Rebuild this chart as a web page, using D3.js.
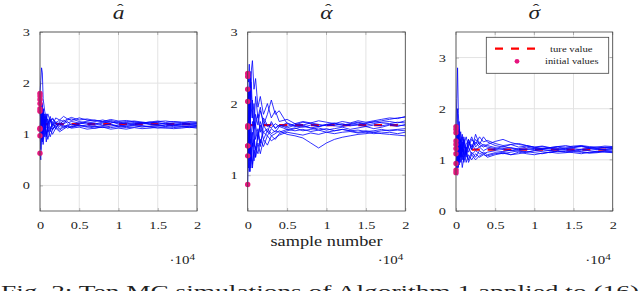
<!DOCTYPE html>
<html><head><meta charset="utf-8">
<script src="https://cdn.jsdelivr.net/npm/d3@7"></script>
<style>
html,body{margin:0;padding:0;background:#fff;overflow:hidden;}
svg{display:block;}
text{font-family:"Liberation Serif","DejaVu Serif",serif;fill:#222;}
</style></head>
<body>
<svg id="c" width="640" height="291"></svg>
<script>
// ---------------- data ----------------
const samples = [0,100,200,300,400,600,800,1000,1300,1600,2000,2500,3000,3500,4000,5000,6000,7000,8000,9000,10000,11000,12000,13000,14000,15000,16000,17000,18000,19000,20000];
const xTickValues = [0,5000,10000,15000,20000];
const xTickLabels = ["0","0.5","1","1.5","2"];

// panel 1: a-hat
const titleA = "a";
const trueA = 1.2;
const initA = [1.80,1.75,1.68,1.60,1.50,1.45,1.12,1.10,0.97,0.63];
const runsA = [
 [1.80,2.05,2.30,2.20,1.70,1.45,1.30,1.40,1.25,1.32,1.22,1.28,1.25,1.30,1.27,1.32,1.28,1.25,1.28,1.24,1.22,1.25,1.23,1.22,1.24,1.22,1.20,1.22,1.21,1.20,1.20],
 [1.75,1.55,1.70,1.35,1.50,1.20,1.35,1.15,1.28,1.10,1.18,1.22,1.15,1.18,1.20,1.16,1.18,1.15,1.17,1.19,1.14,1.16,1.18,1.17,1.15,1.16,1.18,1.15,1.14,1.16,1.15],
 [1.68,1.40,1.10,1.45,1.05,1.30,1.00,1.20,1.35,1.15,1.25,1.18,1.28,1.22,1.25,1.22,1.26,1.28,1.24,1.22,1.25,1.23,1.26,1.24,1.22,1.25,1.26,1.24,1.23,1.25,1.24],
 [1.60,1.25,1.55,1.10,1.40,0.95,1.25,1.30,1.10,1.20,1.14,1.20,1.12,1.16,1.13,1.18,1.15,1.12,1.14,1.10,1.12,1.10,1.13,1.11,1.12,1.14,1.12,1.13,1.15,1.13,1.14],
 [1.50,1.10,1.35,1.60,1.20,1.40,1.15,1.10,1.25,1.30,1.20,1.15,1.22,1.28,1.30,1.25,1.22,1.20,1.24,1.27,1.23,1.20,1.21,1.23,1.20,1.19,1.21,1.20,1.18,1.19,1.20],
 [1.45,1.30,0.90,1.20,1.50,1.10,1.30,1.05,1.15,1.08,1.22,1.10,1.18,1.12,1.15,1.20,1.24,1.22,1.18,1.20,1.16,1.18,1.20,1.22,1.19,1.18,1.16,1.17,1.19,1.18,1.17],
 [1.12,1.45,1.20,0.85,1.25,1.35,0.95,1.15,1.05,1.25,1.10,1.25,1.20,1.25,1.18,1.22,1.20,1.18,1.22,1.25,1.20,1.22,1.19,1.20,1.22,1.23,1.20,1.18,1.20,1.22,1.21],
 [1.10,0.70,1.30,1.05,0.80,1.15,1.05,0.90,1.10,1.00,1.12,1.05,1.10,1.15,1.12,1.14,1.10,1.12,1.15,1.13,1.15,1.13,1.14,1.16,1.14,1.12,1.13,1.11,1.12,1.14,1.12],
 [0.97,1.20,1.00,1.35,0.90,1.25,1.40,1.20,1.30,1.18,1.32,1.28,1.35,1.30,1.33,1.28,1.30,1.27,1.25,1.29,1.26,1.27,1.25,1.22,1.24,1.26,1.23,1.25,1.24,1.22,1.23],
 [0.63,0.50,0.95,1.30,1.00,1.20,0.85,1.10,0.95,1.10,1.15,1.08,1.14,1.18,1.15,1.17,1.14,1.16,1.13,1.16,1.18,1.15,1.17,1.14,1.16,1.17,1.15,1.18,1.16,1.15,1.17]
];

// panel 2: alpha-hat
const titleB = "α";
const trueB = 1.7;
const initB = [2.42,2.38,2.20,2.03,1.69,1.67,1.41,1.41,1.27,0.87];
const runsB = [
 [2.42,2.30,2.55,2.10,2.40,2.60,2.20,2.35,1.95,2.10,1.85,2.00,1.80,1.90,1.75,1.78,1.72,1.75,1.73,1.76,1.74,1.72,1.75,1.73,1.76,1.74,1.76,1.78,1.80,1.79,1.82],
 [2.38,2.00,2.20,1.80,2.45,1.90,1.70,2.10,1.80,1.95,1.70,1.85,2.05,1.85,1.90,1.72,1.68,1.70,1.66,1.68,1.70,1.72,1.70,1.71,1.73,1.70,1.72,1.74,1.75,1.73,1.76],
 [2.20,1.80,1.50,1.90,1.60,1.40,1.75,1.50,1.65,1.45,1.60,1.55,1.65,1.60,1.68,1.64,1.66,1.62,1.64,1.66,1.63,1.65,1.67,1.64,1.66,1.68,1.65,1.67,1.70,1.68,1.71],
 [2.03,2.20,1.70,2.00,1.45,1.75,1.55,1.35,1.55,1.70,1.50,1.62,1.55,1.58,1.62,1.57,1.55,1.52,1.45,1.38,1.45,1.50,1.53,1.55,1.57,1.58,1.60,1.62,1.63,1.64,1.65],
 [1.69,1.30,1.90,1.20,1.50,1.10,1.35,1.25,1.45,1.30,1.50,1.42,1.55,1.50,1.58,1.62,1.65,1.68,1.66,1.63,1.65,1.62,1.64,1.62,1.60,1.62,1.60,1.58,1.57,1.56,1.55],
 [1.67,2.10,1.60,2.35,1.80,2.05,1.65,1.85,1.70,1.90,1.75,1.68,1.72,1.66,1.70,1.68,1.72,1.70,1.73,1.71,1.69,1.70,1.72,1.69,1.70,1.68,1.70,1.69,1.71,1.70,1.69],
 [1.41,1.90,1.25,1.60,1.10,1.45,1.20,1.40,1.30,1.50,1.40,1.55,1.48,1.52,1.56,1.60,1.58,1.56,1.59,1.57,1.60,1.58,1.60,1.61,1.59,1.60,1.58,1.59,1.60,1.58,1.60],
 [1.41,1.10,1.55,1.05,1.30,1.15,1.50,1.25,1.60,1.40,1.70,1.60,1.75,1.65,1.70,1.66,1.70,1.74,1.72,1.68,1.71,1.73,1.70,1.72,1.74,1.72,1.75,1.73,1.72,1.74,1.73],
 [1.27,1.70,1.05,1.40,1.20,1.60,1.40,1.70,1.50,1.75,1.60,1.65,1.58,1.62,1.60,1.64,1.62,1.64,1.61,1.63,1.60,1.62,1.64,1.62,1.63,1.61,1.62,1.64,1.62,1.63,1.62],
 [0.87,1.45,2.00,1.70,2.30,1.80,2.00,1.70,1.85,1.60,1.80,1.70,1.66,1.72,1.68,1.73,1.69,1.67,1.70,1.68,1.71,1.69,1.68,1.70,1.71,1.73,1.74,1.76,1.78,1.80,1.81]
];

// panel 3: sigma-hat
const titleC = "σ";
const trueC = 1.2;
const initC = [1.65,1.60,1.53,1.37,1.30,1.22,1.12,0.93,0.80,0.75];
const runsC = [
 [1.65,2.20,2.80,1.90,1.60,1.35,1.50,1.30,1.45,1.25,1.40,1.30,1.45,1.35,1.38,1.32,1.28,1.30,1.25,1.27,1.24,1.26,1.23,1.25,1.22,1.24,1.26,1.23,1.25,1.24,1.22],
 [1.60,1.30,2.00,1.40,1.75,1.20,1.45,1.10,1.30,1.40,1.20,1.50,1.30,1.25,1.30,1.36,1.40,1.34,1.30,1.28,1.25,1.27,1.24,1.26,1.25,1.27,1.28,1.26,1.25,1.27,1.26],
 [1.53,1.00,1.40,1.10,1.30,0.95,1.20,1.35,1.05,1.25,1.10,1.18,1.12,1.15,1.10,1.14,1.12,1.15,1.18,1.16,1.14,1.12,1.15,1.13,1.14,1.16,1.15,1.13,1.14,1.16,1.15],
 [1.37,1.70,1.10,1.55,1.00,1.40,1.15,1.45,1.20,1.35,1.25,1.40,1.30,1.45,1.35,1.28,1.25,1.30,1.32,1.28,1.25,1.22,1.24,1.26,1.28,1.25,1.27,1.24,1.23,1.25,1.24],
 [1.30,0.80,1.25,0.85,1.15,1.30,1.00,1.20,0.95,1.10,1.00,1.12,1.05,1.10,1.08,1.12,1.15,1.10,1.12,1.15,1.18,1.16,1.14,1.17,1.15,1.18,1.16,1.14,1.15,1.17,1.16],
 [1.22,1.50,0.90,1.30,1.60,1.10,1.35,1.00,1.25,1.15,1.30,1.20,1.25,1.18,1.22,1.20,1.22,1.24,1.21,1.20,1.22,1.21,1.23,1.20,1.21,1.22,1.20,1.22,1.21,1.20,1.21],
 [1.12,1.40,1.65,1.00,1.35,1.55,1.20,1.40,1.15,1.30,1.45,1.25,1.35,1.28,1.25,1.22,1.26,1.23,1.20,1.22,1.20,1.23,1.21,1.22,1.20,1.19,1.21,1.22,1.20,1.21,1.22],
 [0.93,1.10,0.70,1.20,0.90,1.15,0.85,1.05,1.20,0.95,1.10,1.00,1.08,1.12,1.05,1.10,1.13,1.10,1.15,1.12,1.10,1.13,1.15,1.18,1.16,1.14,1.12,1.15,1.17,1.15,1.14],
 [0.80,1.20,1.50,1.20,0.95,1.25,1.05,1.30,1.10,1.40,1.20,1.35,1.25,1.30,1.28,1.24,1.20,1.18,1.22,1.25,1.22,1.20,1.18,1.21,1.23,1.25,1.27,1.24,1.22,1.24,1.25],
 [0.75,0.90,1.20,0.95,1.40,1.05,1.25,0.95,1.15,1.00,1.15,1.05,1.18,1.12,1.15,1.18,1.16,1.19,1.17,1.15,1.18,1.20,1.18,1.16,1.18,1.17,1.19,1.18,1.16,1.18,1.19]
];

const hatMark = "ˆ";
const legendLabels = ["ture value","initial values"];
const xLabel = "sample number";
const expBase = "·10";
const expPow = "4";
const caption = "Fig. 2: Ten MC simulations of Algorithm 1 applied to (16)";

// ---------------- layout ----------------
const panels = [
  {title:titleA, truth:trueA, init:initA, runs:runsA, left:40,    right:197,   yDom:[-0.5,3], yTicks:[0,1,2,3]},
  {title:titleB, truth:trueB, init:initB, runs:runsB, left:247.7, right:405.3, yDom:[0.5,3],  yTicks:[1,2,3]},
  {title:titleC, truth:trueC, init:initC, runs:runsC, left:456,   right:612.7, yDom:[0,3.5],  yTicks:[0,1,2,3]}
];
const yTop = 32, yBot = 211;
const BLUE = "#0000ff", RED = "#ff0000", PINK = "#e6147e";
const SERIF = '"Liberation Serif","DejaVu Serif",serif';
const SX = 1.3; // horizontal stretch of the source image's text

const svg = d3.select("#c");

panels.forEach((p, pi) => {
  const x = d3.scaleLinear().domain([0,20000]).range([p.left, p.right]);
  const y = d3.scaleLinear().domain(p.yDom).range([yBot, yTop]);
  const g = svg.append("g");

  // grid
  g.append("g").selectAll("line").data(xTickValues).join("line")
    .attr("x1", d => x(d)).attr("x2", d => x(d)).attr("y1", yTop).attr("y2", yBot)
    .attr("stroke", "#e3e3e3").attr("stroke-width", 1);
  g.append("g").selectAll("line").data(p.yTicks).join("line")
    .attr("x1", p.left).attr("x2", p.right).attr("y1", d => y(d)).attr("y2", d => y(d))
    .attr("stroke", "#e3e3e3").attr("stroke-width", 1);

  // axes (ticks + labels)
  const xa = g.append("g").attr("transform", `translate(0,${yBot})`)
    .call(d3.axisBottom(x).tickValues(xTickValues).tickSize(-3).tickPadding(10)
      .tickFormat((d,i) => xTickLabels[i]));
  const ya = g.append("g").attr("transform", `translate(${p.left},0)`)
    .call(d3.axisLeft(y).tickValues(p.yTicks).tickSize(-3).tickPadding(10).tickFormat(d3.format("d")));
  [xa, ya].forEach(a => {
    a.attr("font-family", null);
    a.select(".domain").remove();
    a.selectAll(".tick line").attr("stroke", "#888").attr("stroke-width", 0.6);
    a.selectAll(".tick text").attr("font-size", 11).attr("fill", "#222")
      .style("font-family", SERIF);
  });
  xa.selectAll(".tick text").attr("transform", `scale(${SX},1)`);
  ya.selectAll(".tick text").attr("x", -10 / SX).attr("transform", `scale(${SX},1)`);

  // right/top tick marks
  g.append("g").selectAll("line").data(xTickValues).join("line")
    .attr("x1", d => x(d)).attr("x2", d => x(d)).attr("y1", yTop).attr("y2", yTop + 3)
    .attr("stroke", "#888").attr("stroke-width", 0.6);
  g.append("g").selectAll("line").data(p.yTicks).join("line")
    .attr("x1", p.right - 3).attr("x2", p.right).attr("y1", d => y(d)).attr("y2", d => y(d))
    .attr("stroke", "#888").attr("stroke-width", 0.6);

  // true value dashed line
  g.append("line")
    .attr("x1", x(0)).attr("x2", x(20000)).attr("y1", y(p.truth)).attr("y2", y(p.truth))
    .attr("stroke", RED).attr("stroke-width", 2.2).attr("stroke-dasharray", "8,7.8");

  // runs
  const line = d3.line().x((d,i) => x(samples[i])).y(d => y(d));
  g.append("g").selectAll("path").data(p.runs).join("path")
    .attr("d", line).attr("fill", "none").attr("stroke", BLUE)
    .attr("stroke-width", 0.8).attr("stroke-linejoin", "round");

  // initial values
  g.append("g").selectAll("circle").data(p.init).join("circle")
    .attr("cx", x(0)).attr("cy", d => y(d)).attr("r", 2.7).attr("fill", PINK);

  // frame
  g.append("rect").attr("x", p.left).attr("y", yTop)
    .attr("width", p.right - p.left).attr("height", yBot - yTop)
    .attr("fill", "none").attr("stroke", "#444").attr("stroke-width", 0.8);

  // title: letter with a hat, as one text element
  const cx = (p.left + p.right) / 2;
  const tg = g.append("g").attr("transform", `translate(${cx},19) scale(${SX},1)`);
  const t = tg.append("text").attr("x", 0).attr("y", 0).attr("font-size", 18);
  const base = t.append("tspan").attr("font-style", "italic").text(p.title);
  const hat = t.append("tspan").attr("font-size", 15).attr("dy", -5).text(hatMark);
  const w = base.node().getComputedTextLength();
  const hw = t.node().getSubStringLength(1, 1);
  hat.attr("dx", -(w / 2 + hw / 2) + 1.3);
  t.attr("x", -w / 2);

  // ·10^4
  const eg = g.append("g").attr("transform", `translate(${p.right - 2},264) scale(${SX},1)`);
  const e = eg.append("text").attr("x", 0).attr("y", 0)
    .attr("text-anchor", "end").attr("font-size", 11.5);
  e.append("tspan").text(expBase);
  e.append("tspan").attr("dy", -4.5).attr("font-size", 8.5).text(expPow);
});

// x label (middle panel)
svg.append("text").attr("x", (panels[1].left + panels[1].right) / 2 - 56).attr("y", 246)
  .attr("font-size", 15).attr("textLength", 112).attr("lengthAdjust", "spacingAndGlyphs")
  .text(xLabel);

// legend in panel 3
const lg = svg.append("g");
lg.append("rect").attr("x", 486.3).attr("y", 37.3).attr("width", 122.4).attr("height", 36)
  .attr("fill", "#fff").attr("stroke", "#444").attr("stroke-width", 0.8);
lg.append("line").attr("x1", 495).attr("x2", 536).attr("y1", 48.7).attr("y2", 48.7)
  .attr("stroke", RED).attr("stroke-width", 2.2).attr("stroke-dasharray", "8,8");
lg.append("circle").attr("cx", 517).attr("cy", 61.3).attr("r", 2.4).attr("fill", PINK);
lg.selectAll("text").data(legendLabels).join("text")
  .attr("x", (d,i) => i === 0 ? 550 : 545).attr("y", (d,i) => 51.7 + i * 12.5)
  .attr("font-size", 9).attr("textLength", (d,i) => i === 0 ? 42.5 : 53.5)
  .attr("lengthAdjust", "spacingAndGlyphs").text(d => d);

// caption (cut off at the bottom, as in the source)
svg.append("text").attr("x", 1).attr("y", 297).attr("font-size", 17)
  .attr("textLength", 638).attr("lengthAdjust", "spacingAndGlyphs").text(caption);
</script>
</body></html>
